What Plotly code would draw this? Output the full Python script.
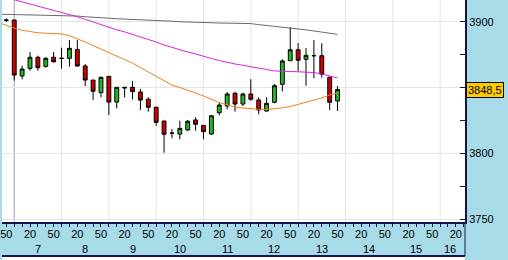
import plotly.graph_objects as go

# ---------------- data ----------------
# 10-minute bars, index 0 = 07:00
bar_index = list(range(-1, 42))
opens = [3901.2, 3901.3, 3858.8, 3864.6, 3873.0, 3866.1, 3873.0, 3872.2, 3872.2, 3879.0, 3866.4,
         3855.7, 3846.1, 3858.5, 3839.0, 3850.2, 3850.2, 3846.6, 3841.2, 3835.0, 3824.6,
         3815.5, 3814.7, 3817.8, 3825.4, 3821.3, 3814.7, 3830.9, 3836.0, 3845.6, 3837.5,
         3845.1, 3840.6, 3832.2, 3838.8, 3852.5, 3870.4, 3878.7, 3871.5, 3874.2, 3874.2,
         3857.8, 3839.8]
highs = [3902.5, 3901.5, 3866.6, 3877.0, 3874.2, 3873.0, 3877.0, 3880.3, 3886.1, 3886.1, 3867.9,
         3855.7, 3858.2, 3858.5, 3850.2, 3850.5, 3855.0, 3849.1, 3842.6, 3835.5, 3824.6,
         3818.5, 3824.8, 3825.4, 3827.4, 3821.5, 3828.6, 3838.5, 3846.6, 3846.9, 3846.1,
         3856.3, 3842.6, 3842.6, 3852.7, 3871.5, 3896.0, 3883.8, 3880.0, 3886.1, 3883.6,
         3858.5, 3851.2]
lows = [3899.8, 3855.2, 3856.3, 3862.8, 3862.8, 3865.1, 3868.9, 3864.3, 3865.8, 3865.8, 3851.2,
        3840.6, 3842.6, 3829.2, 3834.2, 3842.5, 3841.0, 3833.0, 3831.7, 3821.0, 3800.5,
        3811.5, 3810.9, 3817.0, 3817.2, 3810.7, 3814.0, 3828.9, 3833.5, 3831.7, 3836.0,
        3840.0, 3829.7, 3831.7, 3838.0, 3847.0, 3870.4, 3862.6, 3851.4, 3857.0, 3857.5,
        3833.0, 3832.2]
closes = [3901.2, 3859.5, 3864.1, 3873.0, 3865.1, 3872.2, 3869.6, 3872.2, 3879.8, 3866.4, 3855.7,
          3847.2, 3857.8, 3839.0, 3850.2, 3849.8, 3846.9, 3840.5, 3835.0, 3823.6, 3814.5,
          3815.3, 3819.0, 3824.4, 3822.1, 3816.5, 3828.6, 3836.7, 3845.1, 3837.5, 3845.1,
          3841.1, 3833.0, 3838.0, 3851.4, 3870.2, 3878.7, 3870.7, 3874.5, 3874.2, 3860.1,
          3838.8, 3848.5]

ma_index = list(range(-2, 42))
ma_gray = [3905.7, 3905.6, 3905.5, 3905.4, 3905.3, 3905.2, 3905.1, 3905.0, 3905.0, 3904.9, 3904.3,
           3903.8, 3903.3, 3902.9, 3902.6, 3902.3, 3902.0, 3901.8, 3901.5, 3901.2, 3901.0,
           3900.8, 3900.4, 3900.0, 3899.7, 3899.5, 3899.3, 3899.1, 3899.0, 3898.9, 3898.8,
           3898.7, 3898.6, 3897.8, 3897.2, 3896.5, 3895.9, 3895.3, 3894.5, 3893.8, 3893.0,
           3892.2, 3891.3, 3890.4]
ma_magenta = [3919.9, 3918.3, 3916.7, 3915.1, 3913.5, 3911.9, 3910.3, 3908.7, 3907.2, 3905.6, 3903.8,
              3901.8, 3899.8, 3897.6, 3895.7, 3893.9, 3892.3, 3890.5, 3888.6, 3886.9, 3884.6,
              3882.3, 3880.4, 3878.7, 3877.0, 3875.5, 3873.6, 3872.1, 3870.5, 3869.0, 3867.9,
              3866.9, 3866.0, 3865.0, 3863.7, 3862.6, 3862.2, 3862.2, 3862.0, 3861.8, 3861.4,
              3860.3, 3858.8, 3857.3]
ma_orange = [3899.4, 3897.1, 3895.2, 3893.5, 3892.3, 3891.6, 3891.3, 3891.1, 3890.7, 3889.5, 3887.2,
             3884.6, 3881.9, 3879.3, 3877.0, 3874.3, 3871.3, 3868.6, 3865.2, 3861.8, 3858.4,
             3855.0, 3851.9, 3850.0, 3848.1, 3845.9, 3843.6, 3840.9, 3838.6, 3836.8, 3835.2,
             3834.5, 3833.9, 3833.5, 3833.3, 3833.7, 3834.6, 3835.6, 3837.1, 3838.8, 3840.3,
             3842.1, 3844.3, 3845.9]

hours = [7, 8, 9, 10, 11, 12, 13, 14, 15, 16]
minute_labels = ["20", "50"]
y_ticks = [3750, 3800, 3850, 3900]
y_tick_text = ["3750", "3800", "", "3900"]
last_price_text = "3848,5"

# ---------------- styling ----------------
BLUE = "#a7dbe8"
NAVY = "#141450"
GRID = "#e4e4e4"
FONT = "Liberation Sans, Arial, sans-serif"

x_min, x_max = -1.55, 57.16
y_min, y_max = 3747.9, 3916.5

fig = go.Figure()

for vals, col in [(ma_gray, "#6a6a6a"), (ma_magenta, "#dd22dd"), (ma_orange, "#f08020")]:
    fig.add_trace(go.Scatter(x=ma_index, y=vals, mode="lines",
                             line=dict(color=col, width=1), hoverinfo="skip"))

fig.add_trace(go.Candlestick(
    x=bar_index, open=opens, high=highs, low=lows, close=closes,
    increasing=dict(line=dict(color="black", width=1), fillcolor="#22b822"),
    decreasing=dict(line=dict(color="black", width=1), fillcolor="#c80000"),
    whiskerwidth=0,
))

# x ticks: :20 and :50 of every hour
tickvals, ticktext = [], []
for h in [6] + hours:
    base = (h - 7) * 6
    for k, lab in zip([2, 5], minute_labels):
        v = base + k
        if x_min - 1 <= v <= x_max:
            tickvals.append(v)
            ticktext.append(lab)

fig.update_xaxes(
    range=[x_min, x_max], showgrid=False,
    tickvals=tickvals, ticktext=ticktext, ticks="outside", ticklen=1, tickcolor=NAVY,
    ticklabeloverflow="allow",
    showline=True, linecolor=NAVY, linewidth=2, zeroline=False,
    rangeslider=dict(visible=False),
    tickfont=dict(family=FONT, size=11, color="black"),
    minor=dict(dtick=1, tick0=0, ticks="outside", ticklen=3, tickcolor=NAVY, showgrid=False),
)
# hour gridlines (at the start of each hour)
for h in hours:
    xv = (h - 7) * 6
    fig.add_shape(type="line", xref="x", yref="paper", x0=xv, x1=xv, y0=0, y1=1,
                  line=dict(color="#a0a0a0" if h == 7 else GRID, width=1), layer="below")

fig.update_yaxes(
    side="right", range=[y_min, y_max], tickvals=y_ticks, ticktext=y_tick_text,
    ticks="inside", ticklen=5, tickcolor=NAVY, showgrid=True, gridcolor=GRID,
    showline=True, linecolor=NAVY, linewidth=2, zeroline=False,
    tickfont=dict(family=FONT, size=11, color="black"),
    minor=dict(dtick=25, tick0=3750, ticks="inside", ticklen=5, tickcolor=NAVY, showgrid=False),
)

# hour labels
for h in hours:
    xv = min((h - 7) * 6 + 3, 55.2)
    fig.add_annotation(x=xv, y=-0.12, xref="x", yref="paper", text=str(h), showarrow=False,
                       font=dict(family=FONT, size=11, color="black"), xanchor="center", yanchor="middle")

# bottom band border and white strip below
fig.add_shape(type="rect", xref="paper", yref="paper", x0=0, x1=1, y0=-0.2, y1=-0.153,
              fillcolor="white", line=dict(width=0), layer="above")
fig.add_shape(type="line", xref="paper", yref="paper", x0=0, x1=1, y0=-0.153, y1=-0.153,
              line=dict(color=NAVY, width=2))
fig.add_shape(type="line", xref="paper", yref="paper", x0=1, x1=1, y0=-0.153, y1=0,
              line=dict(color=NAVY, width=1))

# last price box
fig.add_annotation(x=1, y=closes[-1], xref="paper", yref="y", text=last_price_text, showarrow=False,
                   xanchor="left", yanchor="middle", xshift=1,
                   bgcolor="#ffcc00", bordercolor="black", borderwidth=1, borderpad=1,
                   font=dict(family=FONT, size=11, color="black"))

fig.update_layout(
    width=508, height=260, margin=dict(l=0, r=43, t=0, b=38),
    paper_bgcolor=BLUE, plot_bgcolor="white", showlegend=False,
)

fig.write_html("out.html")
